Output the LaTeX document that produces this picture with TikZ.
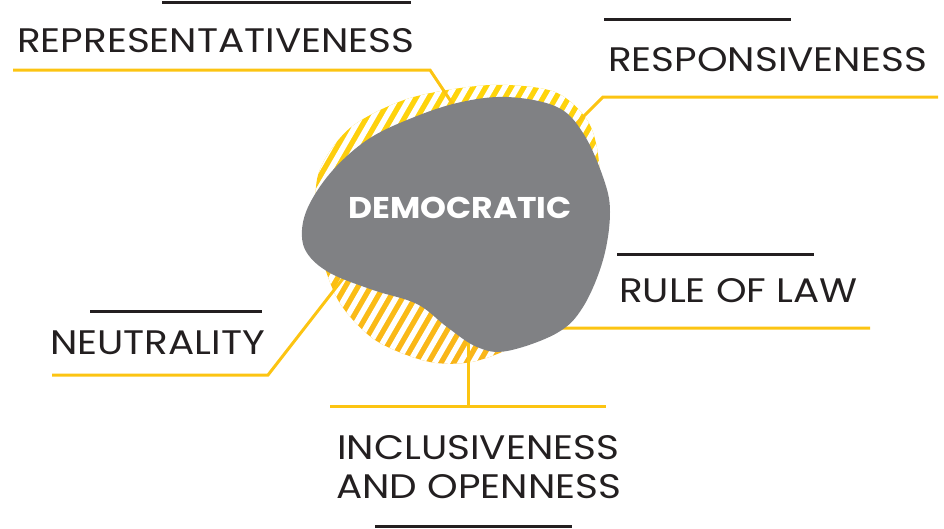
\documentclass[tikz,border=0pt]{standalone}
\usepackage{fontspec}
\setmainfont[FakeStretch=1.145]{Poppins}
\newfontfamily\demfont[FakeStretch=1.1]{Poppins}
\definecolor{blobgray}{HTML}{808184}
\definecolor{ink}{HTML}{231F20}
\definecolor{gold}{HTML}{FCC412}
\definecolor{amber}{HTML}{F9B31A}
\definecolor{lemon}{HTML}{FFD70A}
\begin{document}
\begin{tikzpicture}[x=1pt,y=-1pt,
  lbl/.style={font=\fontsize{34}{41}\selectfont, text=ink, inner sep=0pt, anchor=base west},
  rulebar/.style={ink, line width=3pt},
  link/.style={gold, line width=3pt},
  stripe/.style={white, line width=5.5pt}]
\useasboundingbox (0,0) rectangle (944,528);

% hatched backdrop
\begin{scope}
  \clip plot[smooth cycle] coordinates {(318,175) (350,128) (410,98) (490,85) (555,92) (590,125) (600,180) (590,260) (540,330) (480,360) (430,362) (375,340) (338,300) (318,240)};
  \shade[top color=lemon, bottom color=amber] (290,75) rectangle (630,380);
  \foreach \i in {0,...,42} \draw[stripe] (120+12.7*\i,380) -- ++(173,-300);
\end{scope}

% coordinates for connectors
\coordinate (repA) at (13,70);   \coordinate (repB) at (430,70);  \coordinate (repC) at (458,112);
\coordinate (resA) at (938,97);  \coordinate (resB) at (603,97);  \coordinate (resC) at (576,124);
\coordinate (rolA) at (870,328); \coordinate (rolB) at (560,328); \coordinate (rolC) at (548,316);
\coordinate (neuA) at (52,375);  \coordinate (neuB) at (268,375); \coordinate (neuC) at (345,276);
\coordinate (incA) at (330,406); \coordinate (incB) at (606,406); \coordinate (incM) at (468,406); \coordinate (incC) at (468,340);

\draw[link] (repA) -- (repB) -- (repC);
\draw[link] (resA) -- (resB) -- (resC);
\draw[link] (rolA) -- (rolB) -- (rolC);
\draw[link] (neuA) -- (neuB) -- (neuC);
\draw[link] (incA) -- (incB);
\draw[link] (incM) -- (incC);

% blob
\fill[blobgray] plot[smooth cycle, tension=0.6] coordinates {(507,97) (557,107) (583,133) (603,177) (610,212) (603,260) (583,307) (557,333) (507,351) (477,347) (447,327) (417,304) (373,290) (330,273) (307,253) (302,230) (310,203) (333,170) (367,140) (407,120) (457,103)};
\node[font=\demfont\fontsize{30}{36}\selectfont\bfseries, text=white, inner sep=0pt] (dem) at (460,208) {DEMOCRATIC};

% labels
\node[lbl] (rep) at (17,52) {REPRESENTATIVENESS};
\node[lbl] (res) at (608,71) {RESPONSIVENESS};
\node[lbl] (rol) at (619,302) {RULE OF LAW};
\node[lbl] (neu) at (50,354) {NEUTRALITY};
\node[lbl] (inc1) at (337,459) {INCLUSIVENESS};
\node[lbl] (inc2) at (336,498) {AND OPENNESS};

% black rules
\coordinate (r1a) at (162,2);   \coordinate (r1b) at (411,2);
\coordinate (r2a) at (604,19);  \coordinate (r2b) at (791,19);
\coordinate (r3a) at (617,254); \coordinate (r3b) at (814,254);
\coordinate (r4a) at (90,311);  \coordinate (r4b) at (262,311);
\coordinate (r5a) at (375,526); \coordinate (r5b) at (572,526);
\draw[rulebar] (r1a) -- (r1b);
\draw[rulebar] (r2a) -- (r2b);
\draw[rulebar] (r3a) -- (r3b);
\draw[rulebar] (r4a) -- (r4b);
\draw[rulebar] (r5a) -- (r5b);
\end{tikzpicture}
\end{document}
